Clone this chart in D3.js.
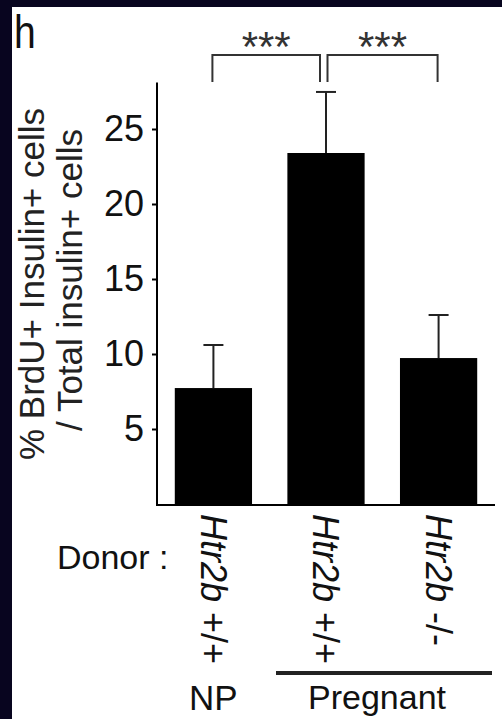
<!DOCTYPE html>
<html>
<head>
<meta charset="utf-8">
<script src="https://cdn.jsdelivr.net/npm/d3@7"></script>
<style>
html,body{margin:0;padding:0;background:#08051f;overflow:hidden;}
svg{display:block;}
text{font-family:"Liberation Sans",Arial,sans-serif;}
</style>
</head>
<body>
<script>
// ---- data ----
const categories = ["NP_wt", "Preg_wt", "Preg_ko"];
const genotypeLabels = ["+/+", "+/+", "-/-"];
const means = [7.73, 23.4, 9.73];
const errorTops = [10.6, 27.47, 12.6];
const yTicks = [5, 10, 15, 20, 25];
const comparisons = [[0, 1, "***"], [1, 2, "***"]];
const groupLabels = ["NP", "Pregnant"];

const W = 502, H = 719;
const svg = d3.select("body").append("svg").attr("width", W).attr("height", H);

// panel
svg.append("rect").attr("x", 0).attr("y", 0).attr("width", W).attr("height", H).attr("fill", "#08051f");
svg.append("rect").attr("x", 12).attr("y", 7).attr("width", W - 12).attr("height", H - 7).attr("fill", "#fff");

const x = d3.scaleBand().domain(categories).range([157, 495]).paddingInner(0.314).paddingOuter(0.158);
const y = d3.scaleLinear().domain([0, 28.1]).range([504, 82.5]);

// bars
svg.append("g").selectAll("rect").data(categories).join("rect")
  .attr("x", d => x(d)).attr("width", x.bandwidth())
  .attr("y", (d, i) => y(means[i])).attr("height", (d, i) => y(0) - y(means[i]))
  .attr("fill", "#000");

// error bars
const eb = svg.append("g").attr("stroke", "#222").attr("stroke-width", 2);
categories.forEach((c, i) => {
  const cx = x(c) + x.bandwidth() / 2;
  eb.append("line").attr("x1", cx).attr("x2", cx).attr("y1", y(means[i])).attr("y2", y(errorTops[i]));
  eb.append("line").attr("x1", cx - 10).attr("x2", cx + 10).attr("y1", y(errorTops[i])).attr("y2", y(errorTops[i]));
});

// axes
const yAxis = d3.axisLeft(y).tickValues(yTicks).tickSize(5).tickSizeOuter(0).tickPadding(8);
const gy = svg.append("g").attr("transform", "translate(157,0)").call(yAxis);
gy.select(".domain").attr("stroke", "#000").attr("stroke-width", 2).attr("d", `M0,${y.range()[1]}V${y(0) + 1}`);
gy.selectAll(".tick line").attr("stroke", "#000").attr("stroke-width", 2);
gy.selectAll(".tick text").attr("font-size", 36).attr("fill", "#111")
  .attr("font-family", "Liberation Sans, Arial, sans-serif");

svg.append("line").attr("x1", 156).attr("x2", 495).attr("y1", y(0) + 1).attr("y2", y(0) + 1)
  .attr("stroke", "#000").attr("stroke-width", 2);

// y label
svg.append("text").attr("transform", "translate(44,284) rotate(-90)")
  .attr("text-anchor", "middle").attr("font-size", 35).attr("fill", "#222")
  .text("% BrdU+ Insulin+ cells");
svg.append("text").attr("transform", "translate(82,280) rotate(-90)")
  .attr("text-anchor", "middle").attr("font-size", 35).attr("fill", "#222")
  .text("/ Total insulin+ cells");

// panel letter
svg.append("text").attr("x", 0).attr("y", 0).attr("font-size", 46)
  .attr("fill", "#111").attr("transform", "translate(14,48) scale(0.85,1)").text("h");

// significance brackets
const bg = svg.append("g");
comparisons.forEach(([a, b, s], k) => {
  const xa = x(categories[a]) + x.bandwidth() / 2 + (k === 1 ? 1.5 : -1);
  const xb = x(categories[b]) + x.bandwidth() / 2 + (k === 0 ? -6 : -1);
  const top = 55, bot = 82;
  bg.append("path").attr("d", `M${xa},${bot}V${top}H${xb}V${bot}`)
    .attr("fill", "none").attr("stroke", "#333").attr("stroke-width", 2);
  bg.append("text").attr("x", (xa + xb) / 2).attr("y", 61).attr("text-anchor", "middle")
    .attr("font-size", 42).attr("fill", "#333").text(s);
});

// x labels
categories.forEach((c, i) => {
  const cx = x(c) + x.bandwidth() / 2;
  const t = svg.append("text").attr("transform", `translate(${cx},514) rotate(90)`)
    .attr("dy", "0.35em").attr("font-size", 36).attr("fill", "#111");
  t.append("tspan").attr("font-style", "italic").text("Htr2b");
  t.append("tspan").text(" " + genotypeLabels[i]);
});

svg.append("text").attr("x", 57).attr("y", 569).attr("font-size", 34).attr("fill", "#111").text("Donor :");

// group labels
svg.append("line").attr("x1", 276).attr("x2", 492).attr("y1", 673).attr("y2", 673)
  .attr("stroke", "#222").attr("stroke-width", 4);
svg.append("text").attr("x", x(categories[0]) + x.bandwidth() / 2).attr("y", 710)
  .attr("text-anchor", "middle").attr("font-size", 35).attr("fill", "#111").text(groupLabels[0]);
svg.append("text").attr("x", 377).attr("y", 709)
  .attr("text-anchor", "middle").attr("font-size", 34).attr("fill", "#111").text(groupLabels[1]);
</script>
</body>
</html>
